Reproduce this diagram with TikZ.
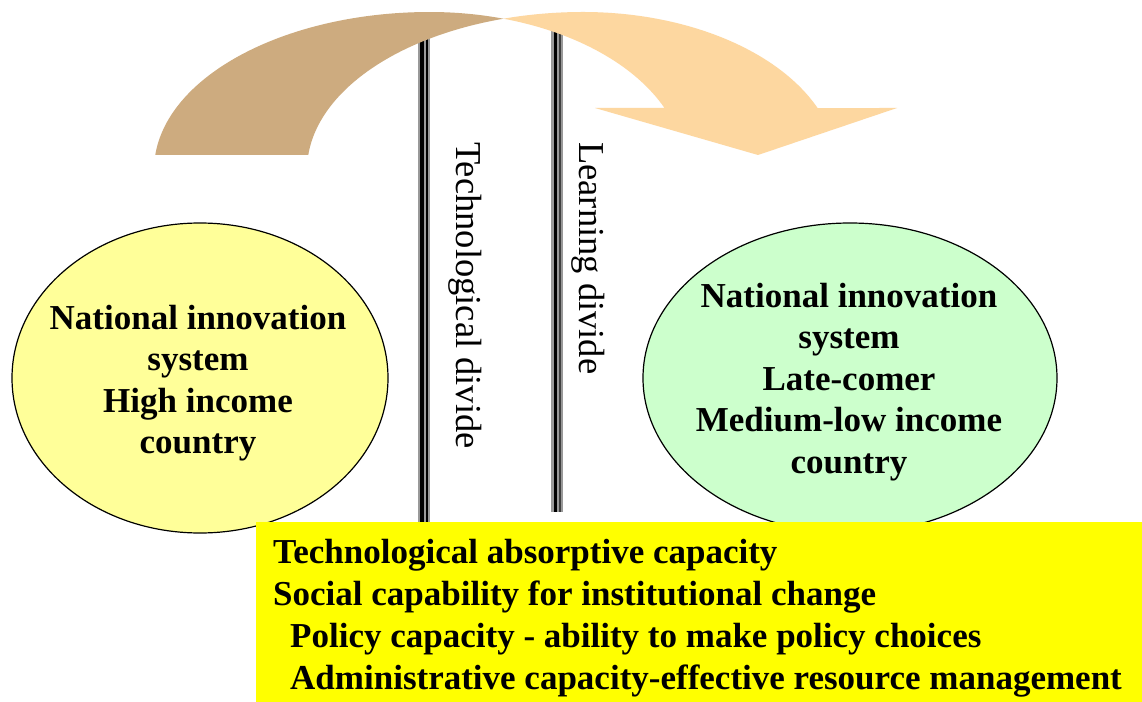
\documentclass[tikz,border=0pt]{standalone}
\usepackage{fontspec}
\setmainfont{Liberation Serif}
\usetikzlibrary{shapes.geometric}
\definecolor{arrowdark}{RGB}{205,171,127}
\definecolor{arrowlight}{RGB}{253,215,160}
\definecolor{hiyellow}{RGB}{255,255,153}
\definecolor{lowgreen}{RGB}{204,255,204}
\definecolor{boxyellow}{RGB}{255,255,0}
\tikzset{
  country/.style={ellipse, draw=black, line width=1.2bp, inner sep=0pt, minimum height=310bp},
  ctext/.style={anchor=north, align=center, inner sep=0pt, font=\bfseries\fontsize{35bp}{41.5bp}\selectfont},
  dividelabel/.style={rotate=-90, anchor=west, inner sep=0pt, font=\fontsize{36.5bp}{40bp}\selectfont},
  divhalo/.style={line width=12bp, draw=black!40},
  ellL/.style={x radius=276, y radius=158},
  ellR/.style={x radius=255, y radius=158}
}
\begin{document}
\begin{tikzpicture}[x=1bp, y=-1bp]
\useasboundingbox (0,0) rectangle (1142,702);
\fill[white] (0,0) rectangle (1142,702);

% ellipses
\node[country, fill=hiyellow, minimum width=376bp] (high) at (200,378) {};
\node[country, fill=lowgreen, minimum width=414bp] (low) at (850,378) {};
\node[ctext] (hightext) at (198,300) {\strut National innovation\\ system\\ High income\\ country};
\node[ctext] (lowtext) at (849,278) {\strut National innovation\\ system\\ Late-comer\\ Medium-low income\\ country};

% divide lines
\coordinate (t1) at (423.5,25);
\coordinate (b1) at (423.5,522);
\coordinate (t2) at (556.5,25);
\coordinate (b2) at (556.5,512);
\draw[divhalo] (t1) -- (b1);
\draw[black, line width=4bp] ([xshift=-1.5bp]t1) -- ([xshift=-1.5bp]b1);
\draw[black, line width=2bp] ([xshift=3.5bp]t1) -- ([xshift=3.5bp]b1);
\draw[divhalo] (t2) -- (b2);
\draw[black, line width=3bp] ([xshift=-1bp]t2) -- ([xshift=-1bp]b2);
\draw[black!75, line width=1.5bp] ([xshift=3.5bp]t2) -- ([xshift=3.5bp]b2);

\node[dividelabel] (techdiv) at (465,142) {Technological divide};
\node[dividelabel] (learndiv) at (588,142) {Learning divide};

% curved arrow
\fill[arrowdark] (155.25,155) arc[start angle=185.45, end angle=270, ellL]
  arc[start angle=270, end angle=286.75, ellR]
  arc[start angle=253.25, end angle=185.45, ellL] -- cycle;
\fill[arrowlight] (503.5,18.7) arc[start angle=253.25, end angle=270, ellL]
  arc[start angle=270, end angle=336.9, ellR]
  -- (897,108) -- (758,155) -- (595,108) -- (664.5,108)
  arc[start angle=336.9, end angle=286.75, ellR] -- cycle;

% capacity box
\node[fill=boxyellow, anchor=north west, inner sep=0pt, minimum width=886bp, minimum height=180bp] (capbox) at (256,522) {};
\node[anchor=north west, align=left, inner sep=0pt, font=\bfseries\fontsize{35bp}{42bp}\selectfont] (captext) at (273,533.6)
  {\strut Technological absorptive capacity\\
   Social capability for institutional change\\
   \hspace*{17bp}Policy capacity - ability to make policy choices\\
   \hspace*{17bp}Administrative capacity-effective resource management};
\end{tikzpicture}
\end{document}
